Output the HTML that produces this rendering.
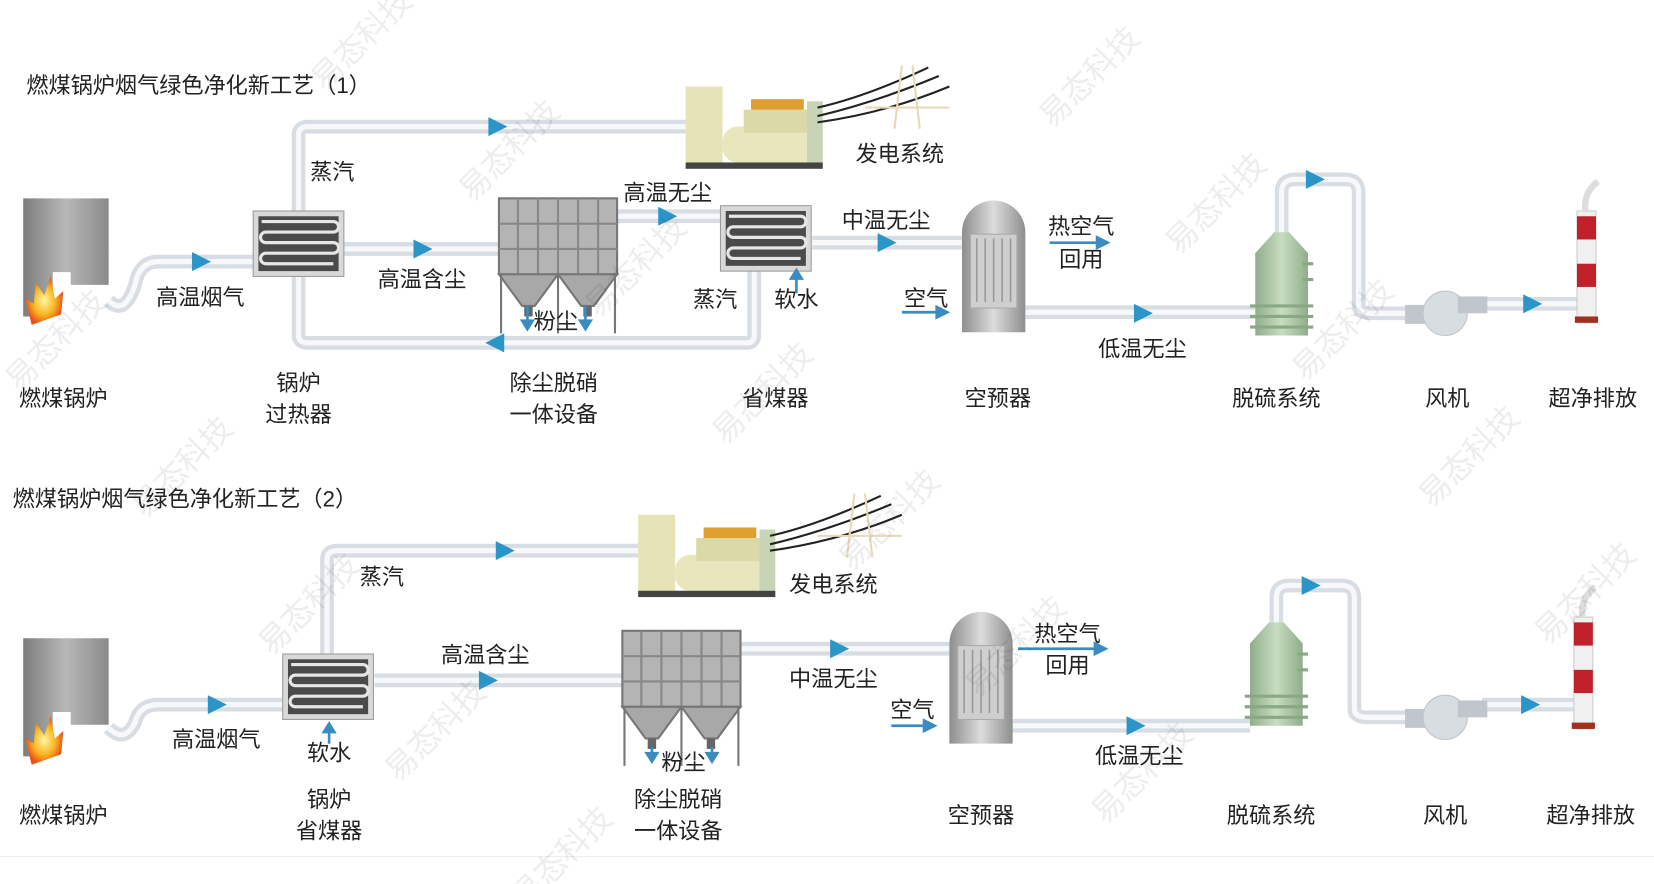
<!DOCTYPE html>
<html><head><meta charset="utf-8"><style>
html,body{margin:0;padding:0;background:#fff;}
svg{display:block}
text{font-family:"Liberation Sans","Noto Sans CJK SC",sans-serif;fill:#222;}
</style></head><body>
<svg width="1654" height="884" viewBox="0 0 1568 838" xmlns="http://www.w3.org/2000/svg">
<defs>
<linearGradient id="gb" x1="0" x2="1"><stop offset="0" stop-color="#7d7d7d"/><stop offset=".5" stop-color="#b8b8b8"/><stop offset="1" stop-color="#8a8a8a"/></linearGradient>
<linearGradient id="gap" x1="0" x2="1"><stop offset="0" stop-color="#8e8e8e"/><stop offset=".5" stop-color="#dcdcdc"/><stop offset="1" stop-color="#8e8e8e"/></linearGradient>
<linearGradient id="gg" x1="0" x2="1"><stop offset="0" stop-color="#8fae8a"/><stop offset=".5" stop-color="#c8dcc0"/><stop offset="1" stop-color="#8fae8a"/></linearGradient>
<radialGradient id="gf"><stop offset="0" stop-color="#fff7a0"/><stop offset=".6" stop-color="#f7b320"/><stop offset="1" stop-color="#e8501a"/></radialGradient>
<g id="boiler">
 <path d="M0 0 H81 V82 H45 V70 H28 V112 H0 Z" fill="url(#gb)"/>
 <path d="M8 120 L2 95 L10 100 L12 80 L20 92 L26 74 L30 95 L38 88 L36 110 Z" fill="url(#gf)"/>
</g>
<g id="hx">
 <rect x="0" y="0" width="86" height="62" fill="#d9d9d9" stroke="#9a9a9a"/>
 <rect x="5" y="5" width="76" height="52" fill="#4a4a4a"/>
 <path d="M8 10 H76 A5 5 0 0 1 76 20 H12 A5 5 0 0 0 12 30 H76 A5 5 0 0 1 76 40 H12 A5 5 0 0 0 12 50 H76" fill="none" stroke="#e6e6e6" stroke-width="3"/>
</g>
<g id="dust">
 <rect x="0" y="0" width="112" height="72" fill="#b4b4b4" stroke="#777" stroke-width="2"/>
 <path d="M0 24 H112 M0 48 H112 M18 0 V72 M37 0 V72 M56 0 V72 M75 0 V72 M94 0 V72" stroke="#888" stroke-width="2"/>
 <path d="M0 72 L22 102 H34 L56 72 Z M56 72 L78 102 H90 L112 72 Z" fill="#a8a8a8" stroke="#777" stroke-width="2"/>
 <path d="M2 72 V128 M110 72 V128 M56 72 V128" stroke="#777" stroke-width="2"/>
 <rect x="24" y="102" width="8" height="10" fill="#666"/><rect x="80" y="102" width="8" height="10" fill="#666"/>
</g>
<g id="ap">
 <path d="M0 30 A30 30 0 0 1 60 30 V125 H0 Z" fill="url(#gap)"/>
 <rect x="8" y="32" width="44" height="70" fill="#cfcfcf" stroke="#aaa"/>
 <path d="M14 36 V96 M22 36 V96 M30 36 V96 M38 36 V96 M46 36 V96" stroke="#999" stroke-width="1.5"/>
</g>
<g id="tower">
 <path d="M18 0 H32 L50 20 V98 H0 V20 Z" fill="url(#gg)"/>
 <path d="M-5 70 H55 M-5 80 H55 M-5 90 H55 M45 30 H55 M45 45 H55" stroke="#8aa884" stroke-width="3"/>
</g>
<g id="gen">
 <rect x="0" y="0" width="35" height="72" fill="#e6e3b6"/>
 <rect x="35" y="38" width="90" height="34" rx="14" fill="#e8e6bc"/>
 <rect x="55" y="22" width="70" height="22" fill="#dcd9a8"/>
 <rect x="62" y="12" width="50" height="10" fill="#e0a030"/>
 <rect x="115" y="14" width="15" height="58" fill="#c9d4b6"/>
 <rect x="0" y="72" width="130" height="6" fill="#444"/>
 <path d="M125 20 Q170 10 230 -18 M125 28 Q180 15 240 -10 M125 34 Q190 25 250 0" stroke="#222" stroke-width="2" fill="none"/>
 <path d="M205 -20 L198 40 M215 -20 L222 40 M200 20 H220 M170 20 H250" stroke="#e8d8b8" stroke-width="2" fill="none"/>
</g>
<g id="fan"><rect x="-38" y="-8" width="28" height="18" fill="#c0c6cc"/><circle r="21" fill="#d8dde2" stroke="#c0c6cc"/><rect x="12" y="-16" width="28" height="16" fill="#c0c6cc"/></g>
<g id="stack"><rect x="0" y="0" width="18" height="106" fill="#f0f0f0" stroke="#ccc"/><rect x="0" y="5" width="18" height="22" fill="#c0202a"/><rect x="0" y="50" width="18" height="22" fill="#c0202a"/><rect x="-2" y="100" width="22" height="6" fill="#a03020"/><path d="M8 0 Q6 -18 20 -28" stroke="#ddd" stroke-width="6" fill="none"/></g>
</defs>

<g fill="none" stroke-linejoin="round" stroke-linecap="butt">
<g stroke="#d7dde3" stroke-width="13">
 <path d="M103 285 Q118 300 128 270 Q132 248 150 248 H240"/>
 <path d="M283 200 V128 Q283 120 292 120 H650"/>
 <path d="M283 260 V318 Q283 325 292 325 H708 Q715 325 715 318 V255"/>
 <path d="M325 236 H473"/>
 <path d="M585 205 H683"/>
 <path d="M770 230 H912"/>
 <path d="M972 296 H1190"/>
 <path d="M1215 220 V182 Q1215 170 1228 170 H1275 Q1288 170 1288 182 V290 Q1288 297 1300 297 H1335"/>
 <path d="M1405 288 H1495"/>
</g>
<g stroke="#f6f8fa" stroke-width="5">
 <path d="M103 285 Q118 300 128 270 Q132 248 150 248 H240"/>
 <path d="M283 200 V128 Q283 120 292 120 H650"/>
 <path d="M283 260 V318 Q283 325 292 325 H708 Q715 325 715 318 V255"/>
 <path d="M325 236 H473"/><path d="M585 205 H683"/><path d="M770 230 H912"/><path d="M972 296 H1190"/>
 <path d="M1215 220 V182 Q1215 170 1228 170 H1275 Q1288 170 1288 182 V290 Q1288 297 1300 297 H1335"/>
 <path d="M1405 288 H1495"/>
</g>
<g stroke="#d7dde3" stroke-width="13">
 <path d="M103 690 Q118 705 128 685 Q132 668 150 668 H268"/>
 <path d="M310 620 V530 Q310 522 320 522 H605"/>
 <path d="M355 645 H590"/>
 <path d="M700 615 H900"/>
 <path d="M960 688 H1185"/>
 <path d="M1210 590 V566 Q1210 555 1222 555 H1272 Q1284 555 1284 567 V672 Q1284 680 1296 680 H1335"/>
 <path d="M1405 668 H1492"/>
</g>
<g stroke="#f6f8fa" stroke-width="5">
 <path d="M103 690 Q118 705 128 685 Q132 668 150 668 H268"/>
 <path d="M310 620 V530 Q310 522 320 522 H605"/>
 <path d="M355 645 H590"/><path d="M700 615 H900"/><path d="M960 688 H1185"/>
 <path d="M1210 590 V566 Q1210 555 1222 555 H1272 Q1284 555 1284 567 V672 Q1284 680 1296 680 H1335"/>
 <path d="M1405 668 H1492"/>
</g>
</g>

<use href="#boiler" x="22" y="188"/>
<use href="#hx" x="240" y="200"/>
<use href="#dust" x="473" y="188"/>
<use href="#hx" x="683" y="195"/>
<use href="#ap" x="912" y="190"/>
<use href="#tower" x="1190" y="220"/>
<use href="#fan" x="1370" y="297"/>
<use href="#stack" x="1495" y="200"/>
<use href="#gen" x="650" y="82"/>
<use href="#boiler" x="22" y="605"/>
<use href="#hx" x="268" y="620"/>
<use href="#dust" x="590" y="598"/>
<use href="#ap" x="900" y="580"/>
<use href="#tower" x="1185" y="590"/>
<use href="#fan" x="1370" y="680"/>
<use href="#stack" x="1492" y="585"/>
<use href="#gen" x="605" y="488"/>

<g fill="#2b95c8">
 <path d="M182 239 L200 248 L182 257Z"/><path d="M463 111 L481 120 L463 129Z"/><path d="M478 316 L460 325 L478 334Z"/>
 <path d="M392 227 L410 236 L392 245Z"/><path d="M624 196 L642 205 L624 214Z"/><path d="M832 221 L850 230 L832 239Z"/>
 <path d="M1075 288 L1093 297 L1075 306Z"/><path d="M1238 161 L1256 170 L1238 179Z"/><path d="M1444 279 L1462 288 L1444 297Z"/>
 <path d="M197 659 L215 668 L197 677Z"/><path d="M470 513 L488 522 L470 531Z"/><path d="M454 636 L472 645 L454 654Z"/>
 <path d="M787 606 L805 615 L787 624Z"/><path d="M1068 679 L1086 688 L1068 697Z"/><path d="M1234 546 L1252 555 L1234 564Z"/><path d="M1442 659 L1460 668 L1442 677Z"/>
</g>
<g stroke="#3a8cc0" stroke-width="2.5" fill="#3a8cc0">
 <path d="M500 290 V308" /><path d="M495 304 L500 312 L505 304Z"/>
 <path d="M555 290 V308" /><path d="M550 304 L555 312 L560 304Z"/>
 <path d="M755 278 V262"/><path d="M750 264 L755 256 L760 264Z"/>
 <path d="M995 230 H1042"/><path d="M1040 225 L1050 230 L1040 235Z"/>
 <path d="M855 296 H890"/><path d="M888 291 L898 296 L888 301Z"/>
 <path d="M312 705 V692"/><path d="M307 694 L312 686 L317 694Z"/>
 <path d="M618 708 V718"/><path d="M613 714 L618 722 L623 714Z"/>
 <path d="M675 708 V718"/><path d="M670 714 L675 722 L680 714Z"/>
 <path d="M965 615 H1040"/><path d="M1038 610 L1048 615 L1038 620Z"/>
 <path d="M845 688 H878"/><path d="M876 683 L886 688 L876 693Z"/>
</g>

<path d="M0 812 H1568" stroke="#eee" stroke-width="1"/>

<g font-size="21" text-anchor="middle">
<text x="25" y="88" text-anchor="start">燃煤锅炉烟气绿色净化新工艺（1）</text>
<text x="315" y="170">蒸汽</text>
<text x="190" y="289">高温烟气</text>
<text x="400" y="272">高温含尘</text>
<text x="527" y="312">粉尘</text>
<text x="633" y="190">高温无尘</text>
<text x="678" y="291">蒸汽</text>
<text x="755" y="291">软水</text>
<text x="840" y="216">中温无尘</text>
<text x="1025" y="222">热空气</text>
<text x="1025" y="253">回用</text>
<text x="878" y="290">空气</text>
<text x="1083" y="338">低温无尘</text>
<text x="853" y="153">发电系统</text>
<text x="60" y="385">燃煤锅炉</text>
<text x="283" y="370">锅炉</text><text x="283" y="400">过热器</text>
<text x="525" y="370">除尘脱硝</text><text x="525" y="400">一体设备</text>
<text x="735" y="385">省煤器</text>
<text x="946" y="385">空预器</text>
<text x="1210" y="385">脱硫系统</text>
<text x="1372" y="385">风机</text>
<text x="1510" y="385">超净排放</text>

<text x="12" y="480" text-anchor="start">燃煤锅炉烟气绿色净化新工艺（2）</text>
<text x="362" y="554">蒸汽</text>
<text x="790" y="561">发电系统</text>
<text x="205" y="708">高温烟气</text>
<text x="312" y="721">软水</text>
<text x="460" y="628">高温含尘</text>
<text x="648" y="730">粉尘</text>
<text x="790" y="651">中温无尘</text>
<text x="1012" y="608">热空气</text>
<text x="1012" y="638">回用</text>
<text x="865" y="680">空气</text>
<text x="1080" y="724">低温无尘</text>
<text x="60" y="780">燃煤锅炉</text>
<text x="312" y="765">锅炉</text><text x="312" y="795">省煤器</text>
<text x="643" y="765">除尘脱硝</text><text x="643" y="795">一体设备</text>
<text x="930" y="780">空预器</text>
<text x="1205" y="780">脱硫系统</text>
<text x="1370" y="780">风机</text>
<text x="1508" y="780">超净排放</text>
</g>

<g font-size="30" fill="#000" opacity="0.08" text-anchor="middle">
<text transform="translate(350,45) rotate(-45)">易态科技</text>
<text transform="translate(1040,80) rotate(-45)">易态科技</text>
<text transform="translate(490,150) rotate(-45)">易态科技</text>
<text transform="translate(1160,200) rotate(-45)">易态科技</text>
<text transform="translate(610,260) rotate(-45)">易态科技</text>
<text transform="translate(60,330) rotate(-45)">易态科技</text>
<text transform="translate(1280,320) rotate(-45)">易态科技</text>
<text transform="translate(730,380) rotate(-45)">易态科技</text>
<text transform="translate(180,450) rotate(-45)">易态科技</text>
<text transform="translate(1400,440) rotate(-45)">易态科技</text>
<text transform="translate(850,500) rotate(-45)">易态科技</text>
<text transform="translate(300,580) rotate(-45)">易态科技</text>
<text transform="translate(1510,570) rotate(-45)">易态科技</text>
<text transform="translate(970,620) rotate(-45)">易态科技</text>
<text transform="translate(420,700) rotate(-45)">易态科技</text>
<text transform="translate(1090,740) rotate(-45)">易态科技</text>
<text transform="translate(540,820) rotate(-45)">易态科技</text>
</g>
</svg>
</body></html>
